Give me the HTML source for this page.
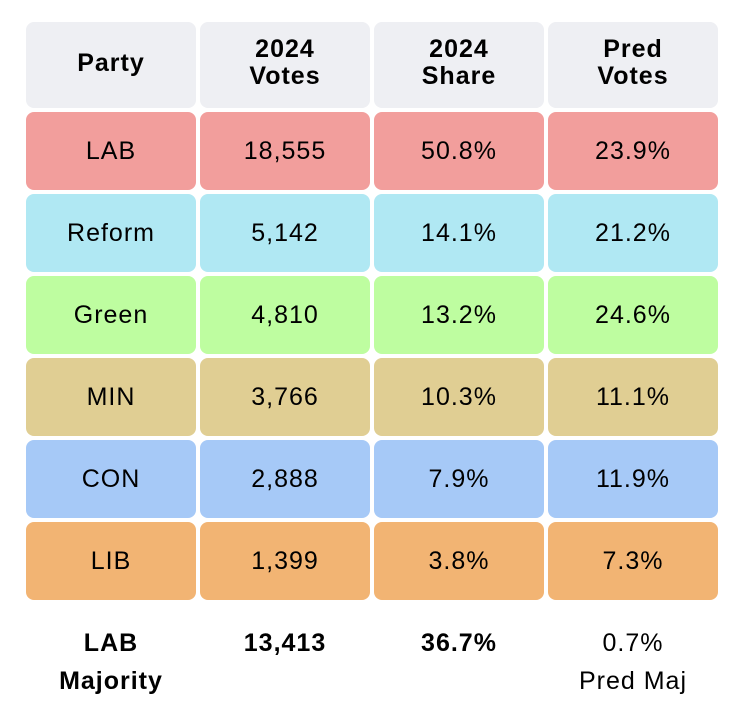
<!DOCTYPE html>
<html>
<head>
<meta charset="utf-8">
<style>
  html, body { margin:0; padding:0; background:#fff; }
  body { width:750px; height:726px; position:relative; overflow:hidden;
    font-family:"Liberation Sans", "DejaVu Sans", sans-serif; color:#000; }
  .c { position:absolute; width:170px; border-radius:8px; display:flex;
    align-items:center; justify-content:center; text-align:center;
    font-size:25px; line-height:27px; letter-spacing:1px; }
  .h { background:#eeeff3; font-weight:bold; height:86px; top:22px; padding-bottom:4px; box-sizing:border-box; }
  .r { height:78px; }
  .x1 { left:26px; } .x2 { left:200px; } .x3 { left:374px; } .x4 { left:548px; }
  .lab { background:#f29e9c; top:112px; }
  .ref { background:#b0e8f3; top:194px; }
  .grn { background:#befda0; top:276px; }
  .min { background:#e0ce93; top:358px; }
  .con { background:#a6c9f7; top:440px; }
  .lib { background:#f2b473; top:522px; }
  .f { position:absolute; width:170px; top:624px; text-align:center; font-size:25px;
    line-height:38px; letter-spacing:1px; }
  .b { font-weight:bold; }
</style>
</head>
<body>
  <div class="c h x1">Party</div>
  <div class="c h x2">2024<br>Votes</div>
  <div class="c h x3">2024<br>Share</div>
  <div class="c h x4">Pred<br>Votes</div>

  <div class="c r lab x1">LAB</div>
  <div class="c r lab x2">18,555</div>
  <div class="c r lab x3">50.8%</div>
  <div class="c r lab x4">23.9%</div>

  <div class="c r ref x1">Reform</div>
  <div class="c r ref x2">5,142</div>
  <div class="c r ref x3">14.1%</div>
  <div class="c r ref x4">21.2%</div>

  <div class="c r grn x1">Green</div>
  <div class="c r grn x2">4,810</div>
  <div class="c r grn x3">13.2%</div>
  <div class="c r grn x4">24.6%</div>

  <div class="c r min x1">MIN</div>
  <div class="c r min x2">3,766</div>
  <div class="c r min x3">10.3%</div>
  <div class="c r min x4">11.1%</div>

  <div class="c r con x1">CON</div>
  <div class="c r con x2">2,888</div>
  <div class="c r con x3">7.9%</div>
  <div class="c r con x4">11.9%</div>

  <div class="c r lib x1">LIB</div>
  <div class="c r lib x2">1,399</div>
  <div class="c r lib x3">3.8%</div>
  <div class="c r lib x4">7.3%</div>

  <div class="f b x1">LAB<br>Majority</div>
  <div class="f b x2">13,413</div>
  <div class="f b x3">36.7%</div>
  <div class="f x4">0.7%<br>Pred Maj</div>
</body>
</html>
